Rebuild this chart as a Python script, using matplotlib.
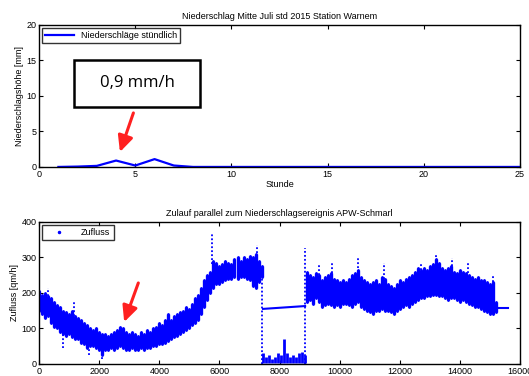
import numpy as np
import matplotlib
matplotlib.use('Agg')
import matplotlib.pyplot as plt
from matplotlib.patches import FancyArrowPatch, Rectangle

plt.rcParams['font.family'] = ['Liberation Sans', 'DejaVu Sans']

# hourly precipitation
hours = list(range(1, 26))
rain = [0, 0.05, 0.15, 0.9, 0.2, 1.1, 0.2, 0, 0, 0, 0, 0, 0,
        0, 0, 0, 0, 0, 0, 0, 0, 0, 0, 0, 0]

# inflow band before the event (lo / hi envelope per 100 steps)
band1_x = list(range(0, 7500, 100))
band1_lo = [150, 140, 130, 135, 115, 105, 100, 90, 85, 80, 85, 75, 70, 70, 60, 55,
            45, 50, 50, 45, 40, 25, 40, 40, 45, 40, 45, 50, 45, 40, 40, 45, 40, 40,
            45, 40, 45, 45, 50, 50, 55, 55, 60, 65, 70, 75, 80, 85, 90, 95, 100, 110,
            115, 125, 140, 160, 180, 200, 215, 225, 225, 230, 235, 240, 240, 245, 240,
            245, 245, 240, 235, 220, 215, 230, 245]
band1_hi = [205, 195, 200, 190, 185, 175, 165, 160, 150, 145, 140, 150, 135, 130, 125, 115,
            110, 100, 95, 100, 90, 85, 85, 80, 85, 90, 95, 105, 100, 90, 85, 90, 85, 80,
            90, 85, 95, 90, 100, 105, 115, 110, 125, 140, 125, 135, 140, 145, 150, 160, 155, 170,
            185, 195, 215, 235, 250, 260, 290, 285, 275, 280, 290, 285, 280, 295, 300,
            290, 300, 295, 305, 300, 310, 290, 275]

# inflow band after the gap
band2_x = list(range(8900, 15300, 100))
band2_lo = [175, 180, 170, 185, 175, 160, 165, 170, 165, 160, 165, 160, 170, 170, 165, 160,
            170, 175, 160, 155, 150, 145, 140, 150, 150, 155, 150, 150, 145, 140, 150, 155,
            160, 165, 160, 170, 175, 180, 185, 185, 190, 190, 195, 195, 190, 190, 185, 180,
            185, 185, 180, 175, 180, 175, 170, 165, 160, 160, 155, 150, 145, 140, 140, 145]
band2_hi = [260, 250, 245, 255, 250, 235, 245, 250, 255, 240, 235, 230, 235, 230, 240, 250,
            255, 265, 245, 235, 230, 225, 230, 235, 225, 245, 240, 225, 220, 215, 225, 235,
            230, 240, 245, 250, 260, 270, 265, 270, 265, 275, 280, 295, 285, 270, 265, 270,
            275, 260, 255, 265, 260, 255, 250, 245, 240, 245, 235, 235, 230, 225, 230, 175]

# gap: low readings and constant substitute line
low_x = list(range(7450, 8900, 100))
low_hi = [30, 20, 25, 15, 20, 30, 25, 70, 30, 20, 25, 20, 30, 35, 25]
const_x = [7450, 8850]
const_y = [155, 163]
tail_x = [15200, 15600]
tail_y = [158, 158]

# isolated spikes (x, from, to)
spike_x = [300, 1150, 5750, 7250, 7420, 8850, 9320, 9760, 10615, 11480, 12700, 13200,
           13750, 14270, 15100, 800, 1650, 2100, 15150]
spike_lo = [190, 135, 280, 300, 0, 0, 250, 245, 260, 240, 265, 290, 265, 255, 230, 45, 25, 15, 144]
spike_hi = [215, 175, 365, 335, 275, 325, 280, 283, 298, 283, 285, 307, 298, 283, 247, 85, 45, 40, 175]

blue = '#0000ff'
red = '#ff2020'
fig = plt.figure(figsize=(5.29, 3.76), dpi=100)
ax1 = fig.add_axes([0.074, 0.556, 0.909, 0.378])
ax2 = fig.add_axes([0.074, 0.032, 0.909, 0.378])

for ax in (ax1, ax2):
    ax.tick_params(direction='in', length=3, width=0.8, labelsize=6.5,
                   top=True, right=True, pad=2)
    for s in ax.spines.values():
        s.set_linewidth(1.0)


def red_arrow(ax, tail, tip):
    ax.add_patch(FancyArrowPatch(tail, tip, arrowstyle='-|>,head_length=0.8,head_width=0.38',
                                 mutation_scale=12, color=red, lw=2.2,
                                 shrinkA=0, shrinkB=0))


# top chart
ax1.plot(hours, rain, color=blue, lw=1.6, label='Niederschläge stündlich')
ax1.set_xlim(0, 25)
ax1.set_ylim(0, 20)
ax1.set_xticks(range(0, 26, 5))
ax1.set_yticks(range(0, 21, 5))
ax1.set_title('Niederschlag Mitte Juli std 2015 Station Warnem', fontsize=6.5, pad=4)
ax1.set_xlabel('Stunde', fontsize=6.5, labelpad=1)
ax1.set_ylabel('Niederschlagshöhe [mm]', fontsize=6.5, labelpad=2)
leg1 = ax1.legend(loc='upper left', fontsize=6.5, fancybox=False, edgecolor='black',
                  borderaxespad=0.3, handlelength=3.2, borderpad=0.35)
leg1.get_frame().set_linewidth(1.0)
ax1.add_patch(Rectangle((1.82, 8.45), 6.55, 6.6, fc='white', ec='black', lw=1.8, zorder=3))
ax1.text(5.1, 11.8, '0,9 mm/h', fontsize=12, family=['Open Sans', 'DejaVu Sans'],
         ha='center', va='center', zorder=4)
red_arrow(ax1, (4.9, 7.6), (4.2, 2.1))

# bottom chart
ax2.vlines(band1_x, band1_lo, band1_hi, color=blue, lw=2.4)
ax2.vlines(band2_x, band2_lo, band2_hi, color=blue, lw=2.4)
ax2.vlines(low_x, [2] * len(low_x), low_hi, color=blue, lw=2.0)
ax2.vlines(spike_x, spike_lo, spike_hi, color=blue, lw=1.3, linestyles=(0, (1, 1.2)))
ax2.plot(band1_x + band2_x, band1_lo + band2_lo, '.', color=blue, ms=2)
ax2.plot(band1_x + band2_x, band1_hi + band2_hi, '.', color=blue, ms=2, label='Zufluss')
ax2.plot(const_x, const_y, color=blue, lw=1.5)
ax2.plot(tail_x, tail_y, color=blue, lw=1.5)
ax2.set_xlim(0, 16000)
ax2.set_ylim(0, 400)
ax2.set_xticks(range(0, 16001, 2000))
ax2.set_yticks(range(0, 401, 100))
ax2.set_title('Zulauf parallel zum Niederschlagsereignis APW-Schmarl', fontsize=6.5, pad=4)
ax2.set_ylabel('Zufluss [qm/h]', fontsize=6.5, labelpad=2)
leg2 = ax2.legend(loc='upper left', fontsize=6.5, fancybox=False, edgecolor='black',
                  borderaxespad=0.3, handlelength=3.2, borderpad=0.35, numpoints=1,
                  markerscale=1.5)
leg2.get_frame().set_linewidth(1.0)
red_arrow(ax2, (3300, 228), (2830, 118))

fig.savefig('out.png', dpi=100)
